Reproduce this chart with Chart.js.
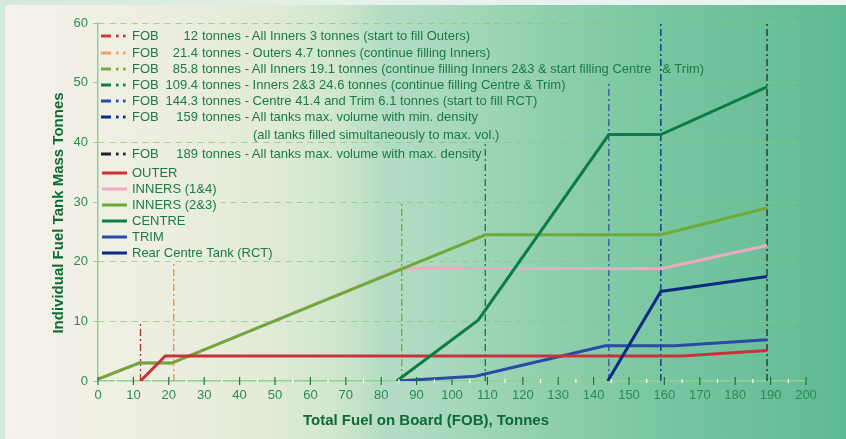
<!DOCTYPE html>
<html><head><meta charset="utf-8">
<script src="https://cdn.jsdelivr.net/npm/chart.js@4.4.1/dist/chart.umd.min.js"></script>
<style>
html,body{margin:0;padding:0;width:846px;height:439px;overflow:hidden;background:#d6ebdd;}
#panel,.mask{background:linear-gradient(to right,#f5f2ea 0%,#eeeee1 18%,#e2ebd7 31%,#cfe6cd 40%,#b5ddc5 45%,#a6d8bc 53.5%,#8fcfad 65%,#7ac7a2 77%,#5fba93 100%);}
.mask{background-attachment:fixed;}
#panel{position:absolute;left:0;top:0;width:846px;height:439px;}
#topstrip{position:absolute;left:0;top:0;width:846px;height:5px;background:linear-gradient(to right,#d3e9da 0%,#e4f0ea 40%,#eef5f2 100%);}
#leftstrip{position:absolute;left:0;top:0;width:5px;height:439px;background:#d6ebdd;}
#c{position:absolute;left:0;top:0;}
.leg{position:absolute;font:13px "Liberation Sans",Arial,sans-serif;color:#1b7a46;white-space:pre;line-height:16px;height:16px;}
.sw{position:absolute;}
.sw svg{display:block;}
</style>
</head><body>
<div id="panel"></div><div id="topstrip"></div><div id="leftstrip"></div>
<canvas id="c" width="846" height="439"></canvas>
<div id="legend"></div>
<script>
// ---- data ----
const xTitle = "Total Fuel on Board (FOB), Tonnes";
const yTitle = "Individual Fuel Tank Mass Tonnes";

const seriesNames = ["OUTER", "INNERS (1&4)", "INNERS (2&3)", "CENTRE", "TRIM", "Rear Centre Tank (RCT)"];
const seriesColors = ["#c8333b", "#f1a9c1", "#6ea93a", "#0b7c45", "#2b4aa6", "#0c2a82"];

const outerX = [12, 19, 165, 189];
const outerY = [0, 4.2, 4.2, 5.1];
const inners14X = [0, 11.6, 20.8, 85.8, 159, 189];
const inners14Y = [0.3, 3.0, 3.0, 18.9, 18.8, 22.7];
const inners23X = [0, 11.6, 20.8, 109.4, 159, 189];
const inners23Y = [0.3, 3.0, 3.0, 24.5, 24.5, 29.0];
const centreX = [84.4, 107.4, 144.3, 159, 189];
const centreY = [0, 10.2, 41.3, 41.3, 49.3];
const trimX = [84.4, 106.6, 143.3, 163, 189];
const trimY = [0, 0.8, 5.9, 5.9, 6.9];
const rctX = [144, 159, 189];
const rctY = [0, 15.0, 17.5];

const eventFob = [12, 21.4, 85.8, 109.4, 144.3, 159, 189];
const eventLevel = [10, 20, 30, 40, 50, 60, 60];
const eventColors = ["#a8302f", "#f08a3c", "#6ea93a", "#0b7c45", "#3553a8", "#0c2a82", "#2a2a2a"];
const eventSwatch = ["#c83a3a", "#f0a070", "#7aaa40", "#0e7e48", "#2a4aa8", "#0b2a80", "#222222"];
const eventText = [
  "All Inners 3 tonnes (start to fill Outers)",
  "Outers 4.7 tonnes (continue filling Inners)",
  "All Inners 19.1 tonnes (continue filling Inners 2&3 & start filling Centre   & Trim)",
  "Inners 2&3 24.6 tonnes (continue filling Centre & Trim)",
  "Centre 41.4 and Trim 6.1 tonnes (start to fill RCT)",
  "All tanks max. volume with min. density",
  "All tanks max. volume with max. density"
];
const eventNote = "(all tanks filled simultaneously to max. vol.)";

// ---- legend (HTML) ----
const legend = document.getElementById('legend');
const evRowY = [36, 52.5, 69, 84.5, 100.5, 116.5, 153.5];
const esc = s => s.replace(/&/g,'&amp;');
function add(html, style, cls){ const d=document.createElement('div'); d.className=cls||'leg'; d.innerHTML=html; Object.assign(d.style, style); legend.appendChild(d); return d; }
function maskRow(cy, x2){ add('', {left:'99px', top:(cy-7)+'px', width:(x2-99)+'px', height:'14px'}, 'mask sw'); }
maskRow(evRowY[3], 567);
maskRow(173 + 16*2, 221);
eventFob.forEach((f,i)=>{
  const cy = evRowY[i];
  add(`<svg width="28" height="6"><line x1="0" y1="3" x2="10" y2="3" stroke="${eventSwatch[i]}" stroke-width="3"/><rect x="15" y="1.6" width="2.6" height="2.8" fill="${eventSwatch[i]}"/><rect x="22" y="1.6" width="2.6" height="2.8" fill="${eventSwatch[i]}"/></svg>`,
      {left:'101px', top:(cy-3)+'px', width:'28px', height:'6px'}, 'sw');
  add('FOB', {left:'132px', top:(cy-8)+'px'});
  add(String(f), {left:'160px', width:'38px', textAlign:'right', top:(cy-8)+'px'});
  add(esc('tonnes - ' + eventText[i]), {left:'202px', top:(cy-8)+'px'});
});
add(esc(eventNote), {left:'253px', top:(135-8)+'px'});
seriesNames.forEach((n,i)=>{
  const cy = 173 + 16*i;
  add(`<svg width="26" height="4"><line x1="0" y1="2" x2="25" y2="2" stroke="${seriesColors[i]}" stroke-width="3"/></svg>`,
      {left:'102px', top:(cy-2)+'px', width:'26px', height:'4px'}, 'sw');
  add(esc(n), {left:'132px', top:(cy-8)+'px'});
});

// ---- chart ----
function pts(xs, ys){ return xs.map((x,i)=>({x:x, y:ys[i]})); }
const seriesData = [pts(outerX,outerY), pts(inners14X,inners14Y), pts(inners23X,inners23Y), pts(centreX,centreY), pts(trimX,trimY), pts(rctX,rctY)];
const seriesOrder = [2, 4, 3, 1, 2, 1];
const datasets = [];
seriesNames.forEach((n,i)=>{
  datasets.push({label:n, data:seriesData[i], borderColor:seriesColors[i], borderWidth:3, pointRadius:0, fill:false, tension:0, order:seriesOrder[i]});
});
eventFob.forEach((f,i)=>{
  datasets.push({label:'FOB '+f, data:[{x:f,y:0},{x:f,y:eventLevel[i]}], borderColor:eventColors[i], borderWidth:1.3,
    borderDash:[7,3,2,3], pointRadius:0, fill:false, order:10, clip:false});
});

const gridCol = 'rgba(130,200,120,0.75)';
const axisCol = '#93cf93';
const tickText = '#2a8a55';
const titleCol = '#0c6b37';
const FONT = '"Liberation Sans", Arial, sans-serif';

const decor = {
  id:'decor',
  afterDraw(chart){
    const {ctx, scales:{x, y}} = chart;
    ctx.save();
    const y0 = y.getPixelForValue(0);
    for (let v = 0; v <= 200; v += 5){
      const px = x.getPixelForValue(v);
      ctx.beginPath();
      if (v % 10 === 0){ ctx.strokeStyle = '#1f6f45'; ctx.lineWidth = 1.2; ctx.moveTo(px, y0-4); ctx.lineTo(px, y0+4); }
      else { ctx.strokeStyle = '#ffffff'; ctx.lineWidth = 1.2; ctx.moveTo(px, y0-2); ctx.lineTo(px, y0+2); }
      ctx.stroke();
    }
    ctx.fillStyle = titleCol;
    ctx.font = 'bold 15px ' + FONT;
    ctx.textAlign = 'center'; ctx.textBaseline = 'middle';
    ctx.fillText(xTitle, 426, 421);
    ctx.translate(59, 213); ctx.rotate(-Math.PI/2);
    ctx.fillText(yTitle, 0, 0);
    ctx.restore();
  }
};

new Chart(document.getElementById('c'), {
  type:'line',
  data:{datasets},
  options:{
    responsive:false, animation:false,
    layout:{padding:{left:0, right:40, top:23, bottom:0}},
    plugins:{legend:{display:false}, tooltip:{enabled:false}},
    scales:{
      x:{type:'linear', min:0, max:200,
        ticks:{stepSize:10, color:tickText, font:{family:FONT, size:13}, padding:7, maxRotation:0, autoSkip:false},
        grid:{display:true, drawOnChartArea:false, drawTicks:false},
        border:{display:true, color:axisCol, width:1.5},
        afterFit(s){ s.height = 58; }
      },
      y:{type:'linear', min:0, max:60,
        ticks:{stepSize:10, color:tickText, font:{family:FONT, size:13}, padding:5},
        grid:{color:(c)=> c.tick && c.tick.value===0 ? 'rgba(0,0,0,0)' : gridCol, lineWidth:1, drawTicks:true, tickLength:5, tickColor:axisCol, tickBorderDash:[]},
        border:{display:true, color:axisCol, width:1.5, dash:[6,5]},
        afterFit(s){ s.width = 98; }
      }
    }
  },
  plugins:[decor]
});
</script>
</body></html>
